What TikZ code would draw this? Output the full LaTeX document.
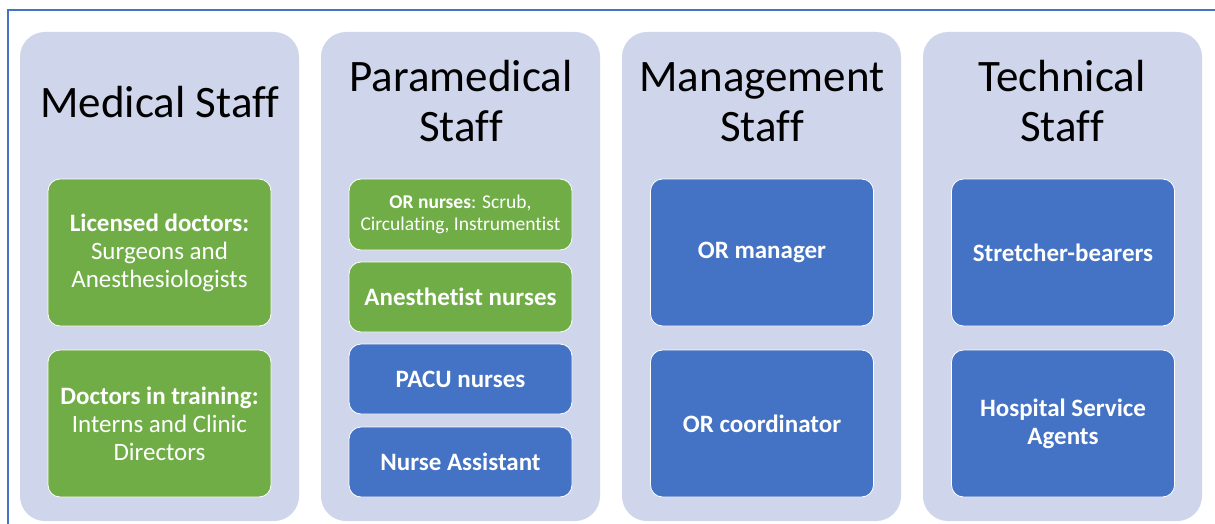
\documentclass[tikz,border=0pt]{standalone}
\usepackage{fontspec}
\setmainfont{Carlito}[Ligatures={NoCommon}]
\definecolor{lav}{HTML}{CFD5EA}
\definecolor{grn}{HTML}{70AD47}
\definecolor{blu}{HTML}{4472C4}
\tikzset{
  col/.style={fill=lav, draw=none, rounded corners=25pt, minimum width=279pt, minimum height=489pt, inner sep=0pt},
  head/.style={text=black, align=center, inner sep=0pt, font=\fontsize{45}{50}\selectfont},
  box/.style={draw=white, line width=0.8pt, rounded corners=12pt, text=white, align=center, inner sep=0pt, minimum width=223pt, font=\fontsize{25}{28}\selectfont},
  gbox/.style={box, fill=grn},
  bbox/.style={box, fill=blu},
  tall/.style={minimum height=147pt},
  short/.style={minimum height=70pt}
}
\begin{document}
\begin{tikzpicture}[x=1pt,y=-1pt]
\useasboundingbox (0,0) rectangle (1215,524);
\fill[white] (0,0) rectangle (1215,524);
\coordinate (tl) at (8,10);
\coordinate (tr) at (1216,10);
\coordinate (bl) at (8,525);
\draw[blu, line width=1.5pt] (tr) -- (tl) -- (bl);

\node[col] (c1) at (159.5,276.5) {};
\node[col] (c2) at (460.5,276.5) {};
\node[col] (c3) at (761.5,276.5) {};
\node[col] (c4) at (1062.5,276.5) {};

\node[head, anchor=base] (h1) at (160,118) {Medical Staff};
\node[head, anchor=base] (h2) at (461,142) {Paramedical\\Staff};
\node[head, anchor=base] (h3) at (762,142) {Management\\Staff};
\node[head, anchor=base] (h4) at (1062,142) {Technical\\Staff};

\node[gbox, tall] (m1) at (159.5,252.5) {\textbf{Licensed doctors:}\\Surgeons and\\Anesthesiologists};
\node[gbox, tall] (m2) at (159.5,423.5) {\textbf{Doctors in training:}\\Interns and Clinic\\Directors};

\node[gbox, minimum height=71pt, font=\fontsize{19.5}{21.5}\selectfont] (p1) at (460.5,214.5) {\textbf{OR nurses}: Scrub,\\Circulating, Instrumentist};
\node[gbox, short] (p2) at (460.5,297) {\textbf{Anesthetist nurses}};
\node[bbox, short] (p3) at (460.5,379) {\textbf{PACU nurses}};
\node[bbox, short] (p4) at (460.5,462) {\textbf{Nurse Assistant}};

\node[bbox, tall] (g1) at (762,252.5) {\textbf{OR manager}};
\node[bbox, tall] (g2) at (762,423.5) {\textbf{OR coordinator}};

\node[bbox, tall] (t1) at (1063,252.5) {\textbf{Stretcher-bearers}};
\node[bbox, tall] (t2) at (1063,423.5) {\textbf{Hospital Service}\\\textbf{Agents}};
\end{tikzpicture}
\end{document}
